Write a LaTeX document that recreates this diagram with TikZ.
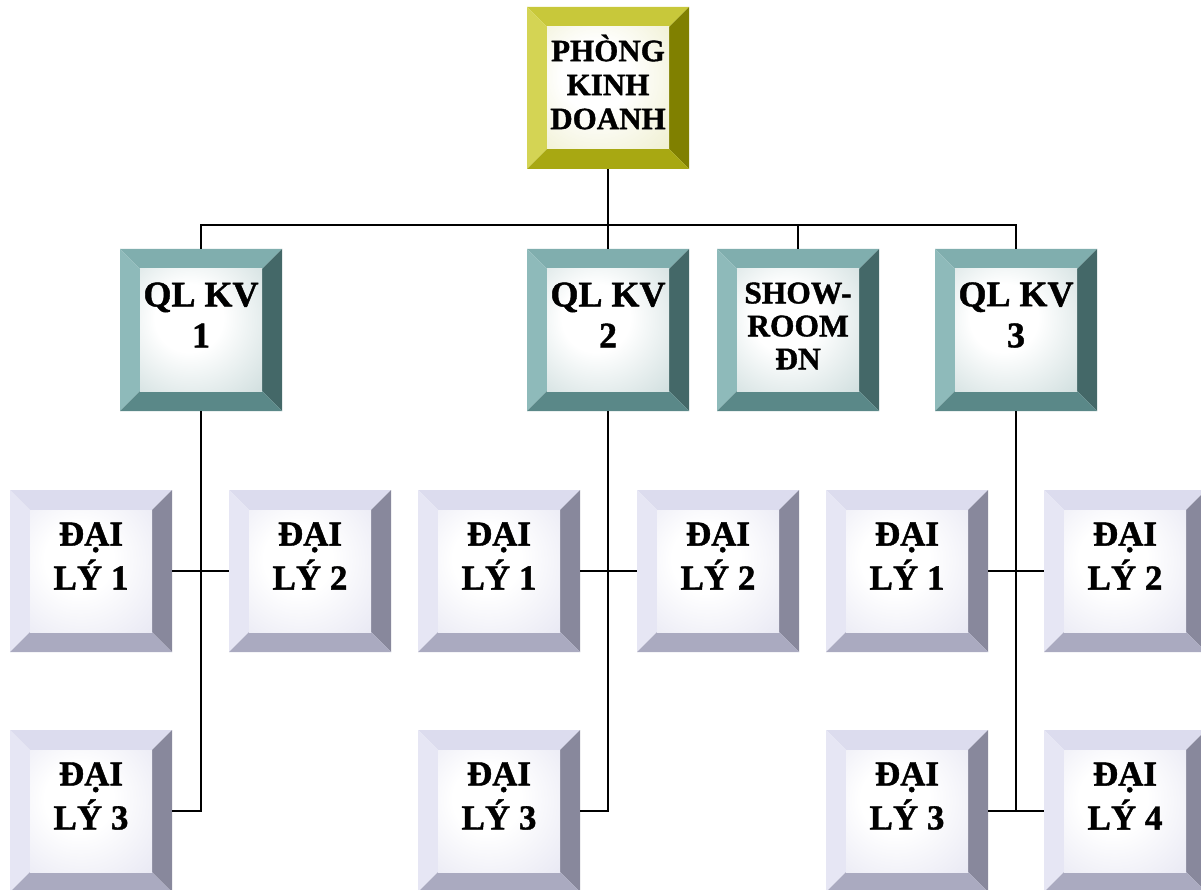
\documentclass[tikz,border=0pt]{standalone}
\usepackage{fontspec}
\setmainfont{Liberation Serif}[BoldFeatures={FakeBold=1.2}]
\usetikzlibrary{calc}
\definecolor{yTop}{RGB}{200,200,58}
\definecolor{yLeft}{RGB}{212,212,84}
\definecolor{yRight}{RGB}{128,128,0}
\definecolor{yBot}{RGB}{168,168,18}
\definecolor{yFace}{RGB}{226,226,168}
\definecolor{tTop}{RGB}{128,174,174}
\definecolor{tLeft}{RGB}{142,186,186}
\definecolor{tRight}{RGB}{68,104,104}
\definecolor{tBot}{RGB}{90,136,136}
\definecolor{tFace}{RGB}{170,196,196}
\definecolor{lTop}{RGB}{220,220,238}
\definecolor{lLeft}{RGB}{230,230,244}
\definecolor{lRight}{RGB}{136,136,156}
\definecolor{lBot}{RGB}{170,170,192}
\definecolor{lFace}{RGB}{214,214,234}
\colorlet{facecol}{white}
\pgfdeclareradialshading[facecol]{bevface}{\pgfpoint{-6bp}{6bp}}{color(0bp)=(white); color(14bp)=(white); color(62bp)=(facecol); color(80bp)=(facecol)}
\tikzset{
  bevel/.style n args={5}{rectangle, minimum width=162pt, minimum height=162pt,
    inner sep=0pt, fill=white,
    path picture={
      \coordinate (bvA) at (path picture bounding box.north west);
      \coordinate (bvB) at (path picture bounding box.north east);
      \coordinate (bvC) at (path picture bounding box.south east);
      \coordinate (bvD) at (path picture bounding box.south west);
      \coordinate (bva) at ($(bvA)+(20pt,-20pt)$);
      \coordinate (bvb) at ($(bvB)+(-20pt,-20pt)$);
      \coordinate (bvc) at ($(bvC)+(-20pt,20pt)$);
      \coordinate (bvd) at ($(bvD)+(20pt,20pt)$);
      \fill[#1] (bvA) -- (bvB) -- (bvb) -- (bva) -- cycle;
      \fill[#2] (bvA) -- (bva) -- (bvd) -- (bvD) -- cycle;
      \fill[#3] (bvB) -- (bvC) -- (bvc) -- (bvb) -- cycle;
      \fill[#4] (bvD) -- (bvC) -- (bvc) -- (bvd) -- cycle;
      \colorlet{facecol}{#5}
      \shade[shading=bevface] (bva) rectangle (bvc);
    }},
  ybox/.style={bevel={yTop}{yLeft}{yRight}{yBot}{yFace}},
  tbox/.style={bevel={tTop}{tLeft}{tRight}{tBot}{tFace}},
  lbox/.style={bevel={lTop}{lLeft}{lRight}{lBot}{lFace}},
  lbl/.style={inner sep=0pt, align=center, text=black},
  topfont/.style={lbl, font=\fontsize{31}{34}\selectfont\bfseries},
  kvfont/.style={lbl, font=\fontsize{36}{41}\selectfont\bfseries},
  srfont/.style={lbl, font=\fontsize{31.5}{33}\selectfont\bfseries},
  dlfont/.style={lbl, font=\fontsize{35}{44}\selectfont\bfseries},
  conn/.style={draw=black, line width=2.2pt}
}
\begin{document}
\begin{tikzpicture}[x=1pt, y=-1pt]
\useasboundingbox (0,0) rectangle (1201,890);
\clip (0,0) rectangle (1201,890);
\fill[white] (0,0) rectangle (1201,890);
% boxes
\node[ybox] (top) at (608,88) {};
\node[tbox] (qk1) at (201,330) {};
\node[tbox] (qk2) at (608,330) {};
\node[tbox] (sr) at (798,330) {};
\node[tbox] (qk3) at (1016,330) {};
\node[lbox] (d11) at (91,571) {};
\node[lbox] (d12) at (310,571) {};
\node[lbox] (d21) at (499,571) {};
\node[lbox] (d22) at (718,571) {};
\node[lbox] (d31) at (907,571) {};
\node[lbox] (d32) at (1125,571) {};
\node[lbox] (d13) at (91,811) {};
\node[lbox] (d23) at (499,811) {};
\node[lbox] (d33) at (907,811) {};
\node[lbox] (d34) at (1125,811) {};
% connectors
\coordinate (bus) at (608,225);
\draw[conn] (top.south) -- (qk2.north);
\draw[conn] (qk1.north) |- (bus) -| (qk3.north);
\draw[conn] (sr.north) -- (sr.north |- bus);
\draw[conn] (qk1.south) |- (d13.east);
\draw[conn] (d11.east) -- (d12.west);
\draw[conn] (qk2.south) |- (d23.east);
\draw[conn] (d21.east) -- (d22.west);
\draw[conn] (qk3.south) -- (qk3.south |- d33.east);
\draw[conn] (d33.east) -- (d34.west);
\draw[conn] (d31.east) -- (d32.west);
% labels
\node[topfont] (topT) at ([yshift=6pt]top.center) {PHÒNG\\KINH\\DOANH};
\node[kvfont] (qk1T) at ([yshift=15pt]qk1.center) {QL KV\\1};
\node[kvfont] (qk2T) at ([yshift=15pt]qk2.center) {QL KV\\2};
\node[srfont] (srT) at ([yshift=4pt]sr.center) {SHOW-\\ROOM\\ĐN};
\node[kvfont] (qk3T) at ([yshift=15pt]qk3.center) {QL KV\\3};
\node[dlfont] (d11T) at ([yshift=15pt]d11.center) {ĐẠI\\LÝ 1};
\node[dlfont] (d12T) at ([yshift=15pt]d12.center) {ĐẠI\\LÝ 2};
\node[dlfont] (d21T) at ([yshift=15pt]d21.center) {ĐẠI\\LÝ 1};
\node[dlfont] (d22T) at ([yshift=15pt]d22.center) {ĐẠI\\LÝ 2};
\node[dlfont] (d31T) at ([yshift=15pt]d31.center) {ĐẠI\\LÝ 1};
\node[dlfont] (d32T) at ([yshift=15pt]d32.center) {ĐẠI\\LÝ 2};
\node[dlfont] (d13T) at ([yshift=15pt]d13.center) {ĐẠI\\LÝ 3};
\node[dlfont] (d23T) at ([yshift=15pt]d23.center) {ĐẠI\\LÝ 3};
\node[dlfont] (d33T) at ([yshift=15pt]d33.center) {ĐẠI\\LÝ 3};
\node[dlfont] (d34T) at ([yshift=15pt]d34.center) {ĐẠI\\LÝ 4};
\end{tikzpicture}
\end{document}
